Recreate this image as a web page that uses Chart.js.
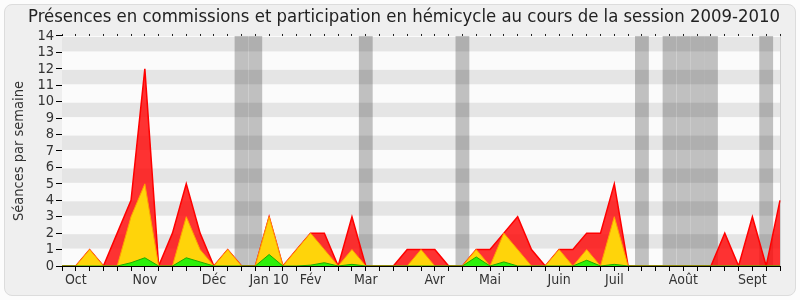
<!DOCTYPE html>
<html>
<head>
<meta charset="utf-8">
<script src="https://cdn.jsdelivr.net/npm/chart.js@4"></script>
<style>
  html, body { margin: 0; padding: 0; background: #fcfcfc; }
  #frame {
    position: absolute; left: 4px; top: 4px; width: 790px; height: 290px;
    background: #efefef; border: 1px solid #dcdcdc; border-radius: 8px;
  }
  #wrap { position: absolute; left: 0; top: 0; width: 800px; height: 300px; }
</style>
</head>
<body>
<div id="frame"></div>
<div id="wrap"><canvas id="chart" width="800" height="300"></canvas></div>
<script>
/* ===========================
   DATA (one point per week, Oct 2009 -> Sept 2010)
=========================== */

const monthLabels = ["Oct", "Nov", "Déc", "Jan 10", "Fév", "Mar", "Avr", "Mai", "Juin", "Juil", "Août", "Sept"];
const monthWeeks  = [1, 6, 11, 15, 18, 22, 27, 31, 36, 40, 45, 50];

// total presence (red)
const totalSeances = [0, 0, 1, 0, 2, 4, 12, 0, 2, 5, 2, 0, 1, 0, 0, 3, 0, 1, 2, 2,
                      0, 3, 0, 0, 0, 1, 1, 1, 0, 0, 1, 1, 2, 3, 1, 0, 1, 1, 2, 2,
                      5, 0, 0, 0, 0, 0, 0, 0, 2, 0, 3, 0, 4];
// commissions (yellow)
const commissions  = [0, 0, 1, 0, 0, 3, 5, 0, 0, 3, 1, 0, 1, 0, 0, 3, 0, 1, 2, 1,
                      0, 1, 0, 0, 0, 0, 1, 0, 0, 0, 1, 0, 2, 1, 0, 0, 1, 0, 1, 0,
                      3, 0, 0, 0, 0, 0, 0, 0, 0, 0, 0, 0, 0];
// hemicycle interventions (green)
const hemicycle    = [0, 0, 0, 0, 0, 0.2, 0.5, 0, 0, 0.5, 0.25, 0, 0, 0, 0, 0.7, 0, 0, 0.05, 0.2,
                      0, 0.1, 0, 0, 0, 0, 0, 0, 0, 0, 0.55, 0, 0.25, 0, 0, 0, 0, 0, 0.35, 0,
                      0.1, 0, 0, 0, 0, 0, 0, 0, 0, 0, 0, 0, 0];
// parliamentary holiday weeks (grey bands)
const vacationWeeks = [13, 14, 22, 29, 42, 44, 45, 46, 47, 51];

const weekLabels = totalSeances.map((v, i) => {
  const k = monthWeeks.indexOf(i);
  return k >= 0 ? monthLabels[k] : "";
});

const FONT = "DejaVu Sans Condensed";

/* ===========================
   BACKGROUND: holidays + stripes
=========================== */

const backgroundPlugin = {
  id: "bands",
  beforeDatasetsDraw(chart) {
    const { ctx, chartArea: a, scales: { x, y } } = chart;
    ctx.save();
    ctx.fillStyle = "#fbfbfb";
    ctx.fillRect(a.left, a.top, a.right - a.left, a.bottom - a.top);

    const step = x.getPixelForValue(1) - x.getPixelForValue(0);
    ctx.fillStyle = "#c0c0c0";
    vacationWeeks.forEach(w => {
      const cx = x.getPixelForValue(w);
      ctx.fillRect(cx - step / 2, a.top, step, a.bottom - a.top);
    });

    ctx.fillStyle = "rgba(0,0,0,0.085)";
    for (let v = 1; v < 14; v += 2) {
      const y1 = y.getPixelForValue(v + 1), y0 = y.getPixelForValue(v);
      ctx.fillRect(a.left, y1 + 1, a.right - a.left, y0 - y1 - 2);
    }

    ctx.strokeStyle = "#cfcfcf";
    ctx.lineWidth = 1;
    ctx.beginPath();
    ctx.moveTo(a.right + 0.5, a.top);
    ctx.lineTo(a.right + 0.5, a.bottom);
    ctx.stroke();
    ctx.restore();
  }
};

/* ===========================
   AREA CHART
=========================== */

const ctx = document.getElementById("chart").getContext("2d");

new Chart(ctx, {
  type: "line",
  data: {
    labels: weekLabels,
    datasets: [
      {
        label: "Hémicycle",
        data: hemicycle,
        order: 0,
        fill: "origin",
        backgroundColor: "rgb(44,240,10)",
        borderColor: "rgb(30,170,0)",
        borderWidth: 1,
        pointRadius: 0,
        tension: 0
      },
      {
        label: "Commissions",
        data: commissions,
        order: 1,
        fill: "origin",
        backgroundColor: "rgb(255,212,10)",
        borderColor: "rgb(255,160,0)",
        borderWidth: 1,
        pointRadius: 0,
        tension: 0
      },
      {
        label: "Présences",
        data: totalSeances,
        order: 2,
        fill: "origin",
        backgroundColor: "rgba(255,0,0,0.8)",
        borderColor: "rgb(255,0,0)",
        borderWidth: 1.5,
        pointRadius: 0,
        tension: 0
      }
    ]
  },
  options: {
    responsive: false,
    animation: false,
    layout: { padding: { left: 28, right: 20, top: 0, bottom: 6 } },
    plugins: {
      legend: { display: false },
      tooltip: { enabled: false },
      title: {
        display: true,
        text: "Présences en commissions et participation en hémicycle au cours de la session 2009-2010",
        color: "#222",
        font: { family: FONT, size: 18.4, weight: "normal" },
        padding: { top: 6, bottom: 7.9 }
      }
    },
    scales: {
      x: {
        offset: false,
        grid: { drawOnChartArea: false, tickLength: 5, color: "#000" },
        border: { color: "#000" },
        ticks: {
          autoSkip: false, maxRotation: 0, padding: 1, color: "#333",
          font: { family: FONT, size: 14 }
        },
        afterFit: s => { s.height = 28; }
      },
      x2: {
        position: "top",
        offset: false,
        grid: { drawOnChartArea: false, tickLength: 2, color: "#222" },
        border: { display: false },
        ticks: { display: false, autoSkip: false },
        afterFit: s => { s.height = 0; }
      },
      y: {
        min: 0,
        max: 14,
        grid: { drawOnChartArea: false, tickLength: 6, color: "#000" },
        border: { color: "#000" },
        ticks: {
          stepSize: 1, autoSkip: false, padding: 2, color: "#333",
          font: { family: FONT, size: 14.5 }
        },
        title: {
          display: true,
          text: "Séances par semaine",
          color: "#333",
          font: { family: FONT, size: 14.5 },
          padding: { top: -17, bottom: 0 }
        },
        afterFit: s => { s.width = 34; }
      }
    }
  },
  plugins: [backgroundPlugin]
});
</script>
</body>
</html>
